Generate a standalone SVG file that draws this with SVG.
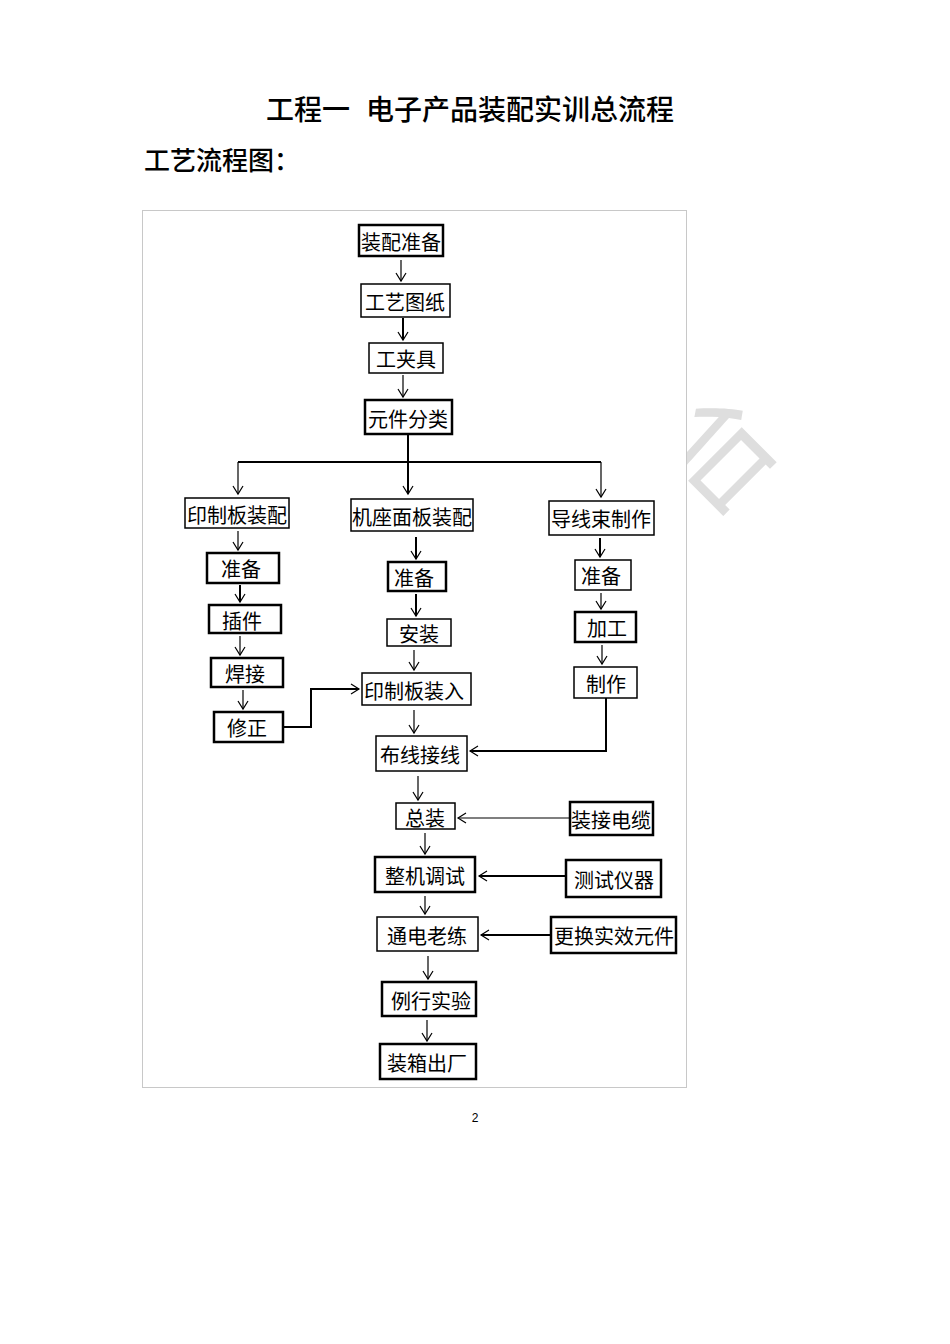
<svg xmlns="http://www.w3.org/2000/svg" width="950" height="1344" viewBox="0 0 950 1344">
<defs>
<style>
.t{font-family:"Noto Sans CJK SC","Noto Sans CJK TC",sans-serif;fill:#000}
.n{font-size:20px;text-anchor:middle;dominant-baseline:central}
.b{fill:#fff;stroke:#000;stroke-width:1.5}
.bk{fill:#fff;stroke:#000;stroke-width:2.5}
.c{fill:none;stroke:#000;stroke-width:1.2}
.ck{fill:none;stroke:#000;stroke-width:2}
</style>
<marker id="a" markerUnits="userSpaceOnUse" markerWidth="14" markerHeight="14" refX="10" refY="7" orient="auto">
<path d="M2,2 L10,7 L2,12" fill="none" stroke="#000" stroke-width="1.2"/>
</marker>
</defs>
<rect width="950" height="1344" fill="#fff"/>
<text class="t" x="707" y="446" transform="rotate(-45 707 446)" font-size="118" text-anchor="middle" dominant-baseline="central" style="fill:#dedede">台</text>
<rect x="142.5" y="210.5" width="544" height="877" fill="#fff" stroke="#c8c8c8" stroke-width="1"/>
<text class="t" x="266" y="120" font-size="28" font-weight="500">工程一<tspan x="366">电子产品装配实训总流程</tspan></text>
<text class="t" x="144" y="170" font-size="26" font-weight="500">工艺流程图：</text>
<text x="475" y="1122" font-family="Liberation Sans, sans-serif" font-size="12" text-anchor="middle">2</text>

<g id="connectors">
<path class="c" d="M401,260 V281" marker-end="url(#a)"/>
<path class="ck" d="M403,318 V340" marker-end="url(#a)"/>
<path class="c" d="M403,375 V397" marker-end="url(#a)"/>
<path class="ck" d="M408,434 V462"/>
<path class="ck" d="M238,462 H601"/>
<path class="c" d="M238,462 V494" marker-end="url(#a)"/>
<path class="ck" d="M408,462 V494" marker-end="url(#a)"/>
<path class="c" d="M601,462 V497" marker-end="url(#a)"/>
<path class="c" d="M238,531 V550" marker-end="url(#a)"/>
<path class="ck" d="M240,585 V602" marker-end="url(#a)"/>
<path class="c" d="M240,636 V655" marker-end="url(#a)"/>
<path class="c" d="M243,690 V709" marker-end="url(#a)"/>
<path class="ck" d="M416,537 V559" marker-end="url(#a)"/>
<path class="ck" d="M416,594 V616" marker-end="url(#a)"/>
<path class="c" d="M414,650 V670" marker-end="url(#a)"/>
<path class="c" d="M414,710 V733" marker-end="url(#a)"/>
<path class="c" d="M418,776 V800" marker-end="url(#a)"/>
<path class="c" d="M425,833 V854" marker-end="url(#a)"/>
<path class="c" d="M425,896 V914" marker-end="url(#a)"/>
<path class="c" d="M428,956 V979" marker-end="url(#a)"/>
<path class="c" d="M427,1020 V1041" marker-end="url(#a)"/>
<path class="ck" d="M600,538 V557" marker-end="url(#a)"/>
<path class="c" d="M601,593 V609" marker-end="url(#a)"/>
<path class="c" d="M602,645 V664" marker-end="url(#a)"/>
<path class="ck" d="M283,727 H311 V689 H359" marker-end="url(#a)"/>
<path class="ck" d="M606,698 V751 H470" marker-end="url(#a)"/>
<path class="c" d="M570,818 H458" marker-end="url(#a)"/>
<path class="ck" d="M566,876 H479" marker-end="url(#a)"/>
<path class="ck" d="M551,935 H481" marker-end="url(#a)"/>
</g>

<g id="n1"><rect class="bk" x="359" y="225" width="84" height="31"/><text class="t n" x="401" y="241">装配准备</text></g>
<g id="n2"><rect class="b" x="361" y="284" width="89" height="33"/><text class="t n" x="405" y="301">工艺图纸</text></g>
<g id="n3"><rect class="b" x="369" y="343" width="74" height="30"/><text class="t n" x="406" y="358">工夹具</text></g>
<g id="n4"><rect class="bk" x="365" y="400" width="87" height="34"/><text class="t n" x="408" y="418">元件分类</text></g>

<g id="n5"><rect class="b" x="185" y="498" width="104" height="30"/><text class="t n" x="237" y="514">印制板装配</text></g>
<g id="n6"><rect class="bk" x="207" y="553" width="72" height="30"/><text class="t n" x="241" y="568">准备</text></g>
<g id="n7"><rect class="bk" x="209" y="605" width="72" height="28"/><text class="t n" x="242" y="620">插件</text></g>
<g id="n8"><rect class="bk" x="211" y="658" width="72" height="29"/><text class="t n" x="245" y="673">焊接</text></g>
<g id="n9"><rect class="bk" x="214" y="712" width="69" height="30"/><text class="t n" x="247" y="727">修正</text></g>

<g id="n10"><rect class="b" x="351" y="499" width="122" height="32"/><text class="t n" x="412" y="516">机座面板装配</text></g>
<g id="n11"><rect class="bk" x="388" y="562" width="58" height="29"/><text class="t n" x="414" y="577">准备</text></g>
<g id="n12"><rect class="b" x="387" y="619" width="64" height="27"/><text class="t n" x="419" y="633">安装</text></g>
<g id="n13"><rect class="b" x="362" y="673" width="109" height="32"/><text class="t n" x="414" y="690">印制板装入</text></g>
<g id="n14"><rect class="b" x="376" y="736" width="91" height="35"/><text class="t n" x="420" y="754">布线接线</text></g>
<g id="n15"><rect class="b" x="396" y="803" width="59" height="26"/><text class="t n" x="425" y="817">总装</text></g>
<g id="n16"><rect class="bk" x="375" y="857" width="100" height="35"/><text class="t n" x="425" y="875">整机调试</text></g>
<g id="n17"><rect class="b" x="377" y="917" width="101" height="34"/><text class="t n" x="427" y="935">通电老练</text></g>
<g id="n18"><rect class="bk" x="382" y="982" width="94" height="34"/><text class="t n" x="431" y="1000">例行实验</text></g>
<g id="n19"><rect class="bk" x="380" y="1044" width="96" height="35"/><text class="t n" x="427" y="1062">装箱出厂</text></g>

<g id="n20"><rect class="b" x="549" y="501" width="105" height="34"/><text class="t n" x="601" y="518">导线束制作</text></g>
<g id="n21"><rect class="b" x="575" y="560" width="56" height="30"/><text class="t n" x="601" y="575">准备</text></g>
<g id="n22"><rect class="bk" x="575" y="612" width="61" height="30"/><text class="t n" x="607" y="627">加工</text></g>
<g id="n23"><rect class="b" x="574" y="667" width="63" height="31"/><text class="t n" x="606" y="683">制作</text></g>
<g id="n24"><rect class="bk" x="570" y="802" width="83" height="33"/><text class="t n" x="611" y="819">装接电缆</text></g>
<g id="n25"><rect class="bk" x="566" y="860" width="95" height="37"/><text class="t n" x="614" y="879">测试仪器</text></g>
<g id="n26"><rect class="bk" x="551" y="917" width="125" height="36"/><text class="t n" x="614" y="935">更换实效元件</text></g>
</svg>
